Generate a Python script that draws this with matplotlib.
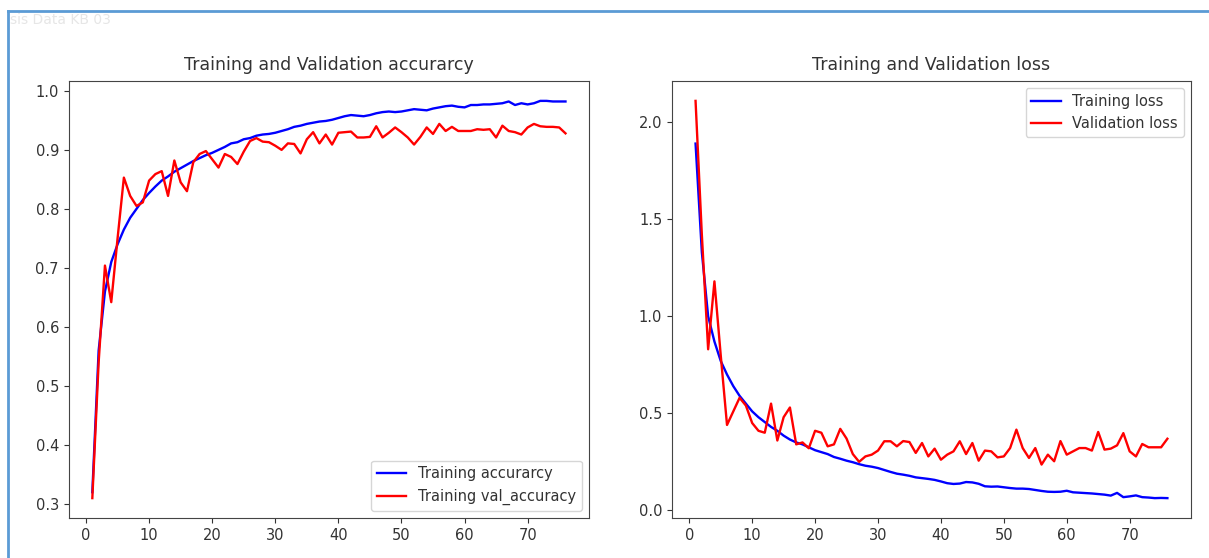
import matplotlib.pyplot as plt
from matplotlib.lines import Line2D

# values (76 epochs)
acc = [0.32, 0.56, 0.66, 0.71, 0.74, 0.765, 0.785, 0.80, 0.815, 0.827,
       0.838, 0.848, 0.855, 0.863, 0.869, 0.875, 0.881, 0.886, 0.891, 0.895,
       0.900, 0.905, 0.911, 0.913, 0.918, 0.920, 0.924, 0.926, 0.927, 0.929,
       0.932, 0.935, 0.939, 0.941, 0.944, 0.946, 0.948, 0.949, 0.951, 0.954,
       0.957, 0.959, 0.958, 0.957, 0.959, 0.962, 0.964, 0.965, 0.964, 0.965,
       0.967, 0.969, 0.968, 0.967, 0.970, 0.972, 0.974, 0.975, 0.973, 0.972,
       0.976, 0.976, 0.977, 0.977, 0.978, 0.979, 0.982, 0.976, 0.979, 0.977,
       0.979, 0.983, 0.983, 0.982, 0.982, 0.982]
val_acc = [0.31, 0.54, 0.704, 0.642, 0.75, 0.853, 0.822, 0.805, 0.811, 0.848,
           0.859, 0.864, 0.822, 0.882, 0.845, 0.830, 0.879, 0.893, 0.898, 0.884,
           0.870, 0.893, 0.888, 0.876, 0.897, 0.915, 0.920, 0.914, 0.913, 0.907,
           0.900, 0.911, 0.910, 0.894, 0.918, 0.930, 0.911, 0.926, 0.909, 0.929,
           0.930, 0.931, 0.921, 0.921, 0.922, 0.940, 0.921, 0.929, 0.938, 0.930,
           0.921, 0.909, 0.922, 0.938, 0.927, 0.944, 0.932, 0.939, 0.932, 0.932,
           0.932, 0.935, 0.934, 0.935, 0.921, 0.941, 0.932, 0.930, 0.926, 0.938,
           0.944, 0.940, 0.939, 0.939, 0.938, 0.928]
loss = [1.89, 1.33, 1.00, 0.87, 0.77, 0.70, 0.64, 0.59, 0.55, 0.51,
        0.48, 0.455, 0.43, 0.41, 0.385, 0.365, 0.35, 0.34, 0.325, 0.31,
        0.30, 0.29, 0.275, 0.266, 0.256, 0.248, 0.238, 0.230, 0.225, 0.218,
        0.208, 0.198, 0.189, 0.184, 0.178, 0.170, 0.166, 0.162, 0.157, 0.149,
        0.140, 0.136, 0.138, 0.146, 0.144, 0.137, 0.124, 0.122, 0.123, 0.119,
        0.115, 0.112, 0.112, 0.110, 0.105, 0.100, 0.096, 0.095, 0.096, 0.101,
        0.093, 0.091, 0.089, 0.087, 0.084, 0.081, 0.076, 0.090, 0.068, 0.072,
        0.077, 0.068, 0.066, 0.063, 0.064, 0.063]
val_loss = [2.11, 1.42, 0.83, 1.18, 0.80, 0.44, 0.51, 0.58, 0.54, 0.45,
            0.41, 0.40, 0.55, 0.36, 0.48, 0.53, 0.34, 0.35, 0.32, 0.41,
            0.40, 0.33, 0.34, 0.42, 0.37, 0.29, 0.25, 0.278, 0.287, 0.308,
            0.356, 0.356, 0.330, 0.357, 0.352, 0.296, 0.347, 0.278, 0.318, 0.261,
            0.287, 0.304, 0.356, 0.290, 0.347, 0.256, 0.308, 0.304, 0.273, 0.278,
            0.321, 0.416, 0.321, 0.270, 0.321, 0.236, 0.287, 0.253, 0.357, 0.287,
            0.304, 0.321, 0.321, 0.308, 0.404, 0.313, 0.318, 0.335, 0.398, 0.304,
            0.278, 0.342, 0.325, 0.325, 0.325, 0.369]
epochs = range(1, len(acc) + 1)

plt.rcParams['text.color'] = '#333333'
plt.rcParams['xtick.color'] = '#333333'
plt.rcParams['ytick.color'] = '#333333'
plt.rcParams['axes.edgecolor'] = '#444444'

fig = plt.figure(figsize=(12.09, 5.58), dpi=100)

ax1 = fig.add_axes([0.0568, 0.0717, 0.4305, 0.7831])
ax1.plot(epochs, acc, 'b', lw=1.7, label='Training accurarcy')
ax1.plot(epochs, val_acc, 'r', lw=1.7, label='Training val_accuracy')
ax1.set_title('Training and Validation accurarcy', fontsize=12.5, pad=8)
ax1.legend(loc='lower right', fontsize=10.5)
ax1.tick_params(labelsize=10.5)

ax2 = fig.add_axes([0.5558, 0.0717, 0.4293, 0.7831])
ax2.plot(epochs, loss, 'b', lw=1.7, label='Training loss')
ax2.plot(epochs, val_loss, 'r', lw=1.7, label='Validation loss')
ax2.set_title('Training and Validation loss', fontsize=12.5, pad=8)
ax2.legend(loc='upper right', fontsize=10.5)
ax2.tick_params(labelsize=10.5)

# screenshot frame and faint header text
fig.add_artist(Line2D([8 / 1209, 1], [1 - 11 / 558, 1 - 11 / 558], color='#5b9bd5', lw=2))
fig.add_artist(Line2D([8 / 1209, 8 / 1209], [0, 1 - 11 / 558], color='#5b9bd5', lw=2))
fig.text(10 / 1209, 1 - 20 / 558, 'sis Data KB 03', fontsize=10, color='#e6e6e6', va='center')

plt.savefig('out.png', dpi=100)
